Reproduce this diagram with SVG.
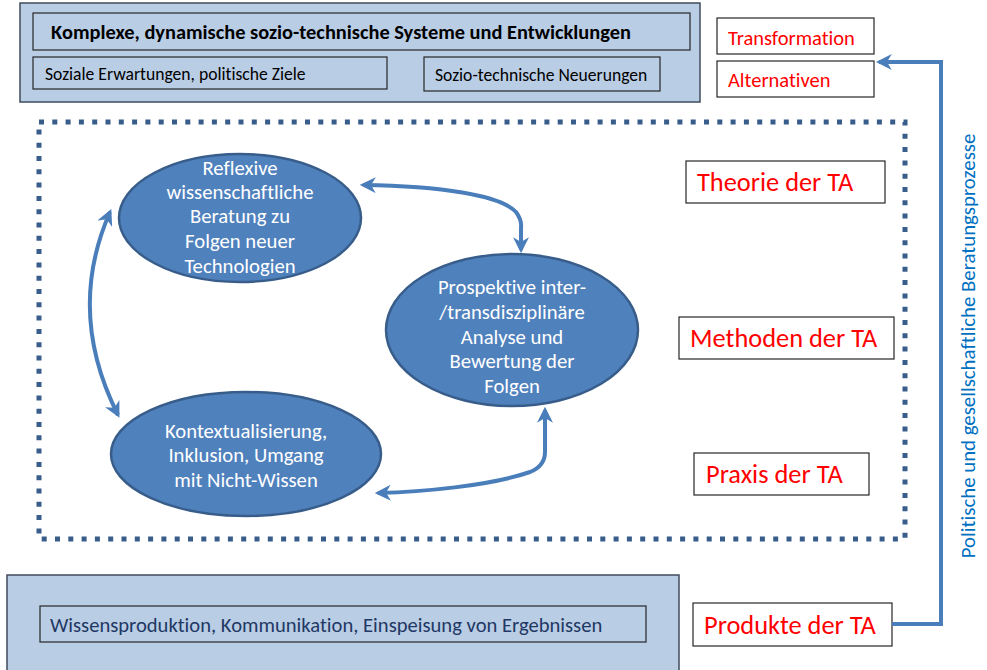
<svg xmlns="http://www.w3.org/2000/svg" width="987" height="670" viewBox="0 0 987 670">
<defs>
<style>
text{font-family:Carlito,Lato,"Liberation Sans",sans-serif;font-variant-ligatures:none}
.panel{fill:#b9cde5;stroke:#3f4b5b;stroke-width:1.5}
.inner{fill:#b9cde5;stroke:#262626;stroke-width:1.2}
.lbl{fill:#fff;stroke:#262626;stroke-width:1.2}
.red{fill:#ff0000}
.big{font-size:26.4px}
.ell{fill:#4f81bd;stroke:#385d8a;stroke-width:2.5}
.et{fill:#fff;font-size:20.7px;text-anchor:middle}
.con{fill:none;stroke:#4a7ebb;stroke-width:4}
</style>
<marker id="ah" viewBox="0 0 10 10" refX="8" refY="5" markerWidth="4" markerHeight="4" orient="auto-start-reverse" markerUnits="strokeWidth">
<path d="M0,0 L10,5 L0,10 L3,5 z" fill="#4a7ebb"/>
</marker>
</defs>
<rect width="987" height="670" fill="#fff"/>

<g id="top-panel">
<rect class="panel" x="20" y="3" width="680" height="99"/>
<rect class="inner" x="33" y="13" width="657" height="37"/>
<text x="341" y="38.5" font-size="20.4" font-weight="bold" text-anchor="middle" fill="#000">Komplexe, dynamische sozio-technische Systeme und Entwicklungen</text>
<rect class="inner" x="33" y="57" width="354" height="32"/>
<text x="45" y="79.5" font-size="17.6" fill="#000">Soziale Erwartungen, politische Ziele</text>
<rect class="inner" x="424" y="57" width="236" height="34"/>
<text x="435" y="80.5" font-size="17.6" fill="#000">Sozio-technische Neuerungen</text>
</g>

<g id="transformation">
<rect class="lbl" x="717" y="18" width="157" height="36"/>
<text class="red" x="728" y="44.5" font-size="20.5">Transformation</text>
</g>
<g id="alternativen">
<rect class="lbl" x="717" y="61" width="157" height="36"/>
<text class="red" x="728" y="86.5" font-size="20.5">Alternativen</text>
</g>

<g id="ta-frame">
<rect x="39" y="122" width="866" height="417" fill="none" stroke="#385d8a" stroke-width="5" stroke-dasharray="5 8.3"/>
</g>

<g id="theorie">
<rect class="lbl" x="686" y="161" width="199" height="42"/>
<text class="red big" x="697" y="191">Theorie der TA</text>
</g>
<g id="methoden">
<rect class="lbl" x="679" y="317" width="215" height="42"/>
<text class="red big" x="690" y="347">Methoden der TA</text>
</g>
<g id="praxis">
<rect class="lbl" x="694" y="453" width="175" height="42"/>
<text class="red big" x="706" y="483">Praxis der TA</text>
</g>
<g id="produkte">
<rect class="lbl" x="693" y="603" width="199" height="43"/>
<text class="red big" x="704" y="633.5">Produkte der TA</text>
</g>

<g id="reflexive">
<ellipse class="ell" cx="240" cy="218" rx="121" ry="64"/>
<text class="et" x="240" y="175">Reflexive</text>
<text class="et" x="240" y="199">wissenschaftliche</text>
<text class="et" x="240" y="223">Beratung zu</text>
<text class="et" x="240" y="248">Folgen neuer</text>
<text class="et" x="240" y="273">Technologien</text>
</g>

<g id="prospektive">
<ellipse class="ell" cx="512" cy="330" rx="126" ry="76"/>
<text class="et" x="512" y="294">Prospektive inter-</text>
<text class="et" x="512" y="319">/transdisziplinäre</text>
<text class="et" x="512" y="344">Analyse und</text>
<text class="et" x="512" y="368">Bewertung der</text>
<text class="et" x="512" y="393">Folgen</text>
</g>

<g id="kontext">
<ellipse class="ell" cx="246" cy="454" rx="135" ry="62"/>
<text class="et" x="246" y="438">Kontextualisierung,</text>
<text class="et" x="246" y="462">Inklusion, Umgang</text>
<text class="et" x="246" y="487">mit Nicht-Wissen</text>
</g>

<g id="bottom-panel">
<rect class="panel" x="7" y="575" width="672" height="100"/>
<rect class="inner" x="40" y="606" width="606" height="36" stroke="#1f2d4d"/>
<text x="50" y="631.5" font-size="20.6" fill="#1f3864">Wissensproduktion, Kommunikation, Einspeisung von Ergebnissen</text>
</g>

<g id="side-label">
<text x="0" y="0" transform="translate(975,346) rotate(-90)" font-size="20.8" fill="#0070c0" text-anchor="middle">Politische und gesellschaftliche Beratungsprozesse</text>
</g>

<g id="connectors">
<path class="con" d="M110,212 Q66,312 118,415" marker-start="url(#ah)" marker-end="url(#ah)"/>
<path class="con" d="M363,185 C440,186 500,195 516,212 Q522,220 521,228 L521,250" marker-start="url(#ah)" marker-end="url(#ah)"/>
<path class="con" d="M545,410 L545,452 Q545,466 530,472 C490,486 420,492 378,493" marker-start="url(#ah)" marker-end="url(#ah)"/>
<path class="con" d="M892,624 L941,624 L941,62 L879,62" marker-end="url(#ah)"/>
</g>
</svg>
